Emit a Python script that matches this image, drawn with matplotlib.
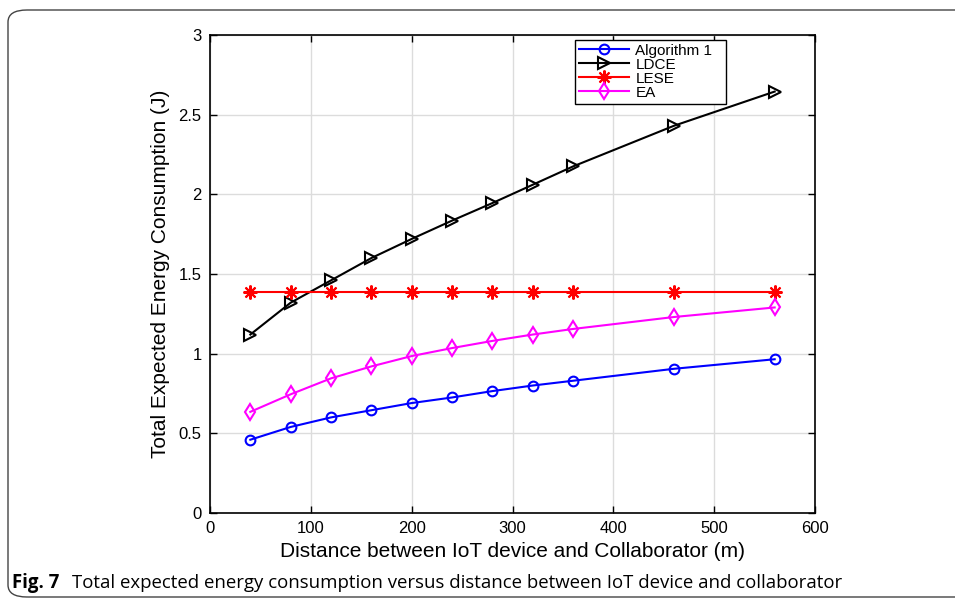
import matplotlib
matplotlib.use("Agg")
import matplotlib.pyplot as plt
from matplotlib.patches import FancyBboxPatch, Rectangle

distance = [40, 80, 120, 160, 200, 240, 280, 320, 360, 460, 560]
alg1 = [0.46, 0.54, 0.60, 0.645, 0.69, 0.725, 0.765, 0.80, 0.83, 0.905, 0.965]
ldce = [1.12, 1.32, 1.46, 1.60, 1.72, 1.835, 1.945, 2.06, 2.175, 2.43, 2.645]
lese = [1.385] * 11
ea = [0.635, 0.745, 0.845, 0.92, 0.985, 1.035, 1.08, 1.12, 1.155, 1.23, 1.29]
labels = ["Algorithm 1", "LDCE", "LESE", "EA"]
xticks = [0, 100, 200, 300, 400, 500, 600]
yticks = [0, 0.5, 1, 1.5, 2, 2.5, 3]
ytick_labels = ["0", "0.5", "1", "1.5", "2", "2.5", "3"]

plt.rcParams['font.family'] = ['Liberation Sans', 'DejaVu Sans']

W, H = 955, 601
fig = plt.figure(figsize=(W/100, H/100), dpi=100)

# page frame with rounded corners
frame = FancyBboxPatch((8/W, 4/H), 1.2, (H-14)/H,
                       boxstyle="round,pad=0,rounding_size=0.02",
                       transform=fig.transFigure, fill=False,
                       edgecolor='#444444', linewidth=1.0)
fig.patches.append(frame)

ax = fig.add_axes([210/W, (H-513)/H, 605/W, 478/H])
lw = 1.5
ax.plot(distance, alg1, color='#0000ff', marker='o', mfc='none', ms=7, mew=1.5, lw=lw, label=labels[0])
ax.plot(distance, ldce, color='black', marker='>', mfc='none', ms=8, mew=1.5, lw=lw, label=labels[1])
ax.plot(distance, lese, color='#ff0000', marker=(8, 2, 0), ms=10, mew=1.5, lw=lw, label=labels[2])
ax.plot(distance, ea, color='#ff00ff', marker='d', mfc='none', ms=8, mew=1.5, lw=lw, label=labels[3])

ax.set_xlim(0, 600)
ax.set_ylim(0, 3)
ax.set_xticks(xticks)
ax.set_yticks(yticks)
ax.set_yticklabels(ytick_labels)
ax.grid(True, color='#dcdcdc', linewidth=1.0)
ax.set_axisbelow(True)
ax.tick_params(direction='in', top=True, right=True, labelsize=12, length=5, width=1, pad=6)
for s in ax.spines.values():
    s.set_linewidth(1.2)
ax.set_xlabel("Distance between IoT device and Collaborator (m)", fontsize=15, labelpad=4)
ax.set_ylabel("Total Expected Energy Consumption (J)", fontsize=15, labelpad=6)

leg = ax.legend(loc='upper left', bbox_to_anchor=(365/605, 1 - 5/478), fontsize=11,
                frameon=False,
                handlelength=3.3, borderpad=0.25, labelspacing=0.0, handletextpad=0.4,
                borderaxespad=0)

fig.text(12/W, 1 - 583/H, "Fig. 7", fontsize=13.4, fontweight='bold',
         family=['Open Sans', 'DejaVu Sans'], va='center', ha='left')
fig.text(72/W, 1 - 583/H,
         "Total expected energy consumption versus distance between IoT device and collaborator",
         fontsize=13.4, family=['Open Sans', 'DejaVu Sans'], va='center', ha='left')

# legend box with MATLAB-like extra right padding
fig.canvas.draw()
bb = leg.get_window_extent().transformed(fig.transFigure.inverted())
box = Rectangle((bb.x0, bb.y0), bb.width + 10/W, bb.height, transform=fig.transFigure,
                facecolor='white', edgecolor='black', linewidth=1.0, zorder=4)
fig.patches.append(box)
leg.set_zorder(5)
leg.remove()
fig.add_artist(leg)
leg.set_zorder(5)

fig.savefig("out.png", dpi=100)
